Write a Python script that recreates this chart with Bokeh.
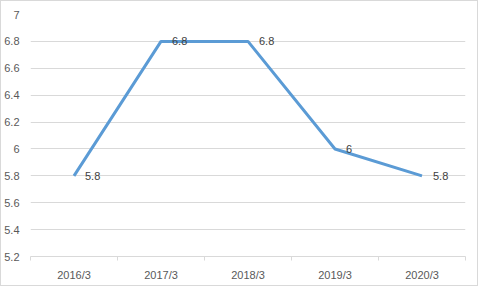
from bokeh.plotting import figure
from bokeh.models import Range1d, FixedTicker
from bokeh.core.properties import value
from bokeh.embed import file_html
from bokeh.resources import INLINE

categories = ["2016/3", "2017/3", "2018/3", "2019/3", "2020/3"]
values = [5.8, 6.8, 6.8, 6.0, 5.8]
value_labels = ["5.8", "6.8", "6.8", "6", "5.8"]
y_ticks = [5.2, 5.4, 5.6, 5.8, 6.0, 6.2, 6.4, 6.6, 6.8, 7.0]
y_tick_labels = ["5.2", "5.4", "5.6", "5.8", "6", "6.2", "6.4", "6.6", "6.8", "7"]

xs = [i + 0.5 for i in range(len(categories))]
FONT = "Liberation Sans"

p = figure(width=478, height=286, output_backend="svg", toolbar_location=None,
           x_range=Range1d(0, len(categories)), y_range=Range1d(5.2, 7.0))
p.styles = {"border": "1px solid #d9d9d9"}
p.min_border_left = 29
p.min_border_right = 14
p.min_border_top = 13
p.min_border_bottom = 31
p.outline_line_color = None
p.background_fill_color = "white"
p.border_fill_color = "white"

# x axis
xa = p.xaxis[0]
xa.ticker = FixedTicker(ticks=xs, minor_ticks=list(range(len(categories) + 1)))
xa.major_label_overrides = {x: c for x, c in zip(xs, categories)}
xa.major_tick_in = 0
xa.major_tick_out = 0
xa.minor_tick_in = 0
xa.minor_tick_out = 4
xa.minor_tick_line_color = "#d9d9d9"
xa.axis_line_color = "#d9d9d9"
xa.major_label_text_color = "#595959"
xa.major_label_text_font = FONT
xa.major_label_text_font_size = "11px"
xa.major_label_standoff = 8

# y axis
ya = p.yaxis[0]
ya.ticker = FixedTicker(ticks=y_ticks)
ya.major_label_overrides = {t: l for t, l in zip(y_ticks, y_tick_labels)}
ya.axis_line_color = None
ya.major_tick_line_color = None
ya.minor_tick_line_color = None
ya.major_tick_in = 0
ya.major_tick_out = 0
ya.major_label_text_color = "#595959"
ya.major_label_text_font = FONT
ya.major_label_text_font_size = "11px"
ya.major_label_standoff = 11

p.xgrid.grid_line_color = None
p.ygrid.grid_line_color = "#d9d9d9"
p.ygrid.grid_line_width = 1

p.line(xs, values, line_color="#5b9bd5", line_width=3, line_join="round")
p.text(xs, values, text=value_labels, x_offset=11, text_align="left",
       text_baseline="middle", text_color="#404040",
       text_font=value(FONT), text_font_size="11px")

open("out.html", "w").write(file_html(p, INLINE))
